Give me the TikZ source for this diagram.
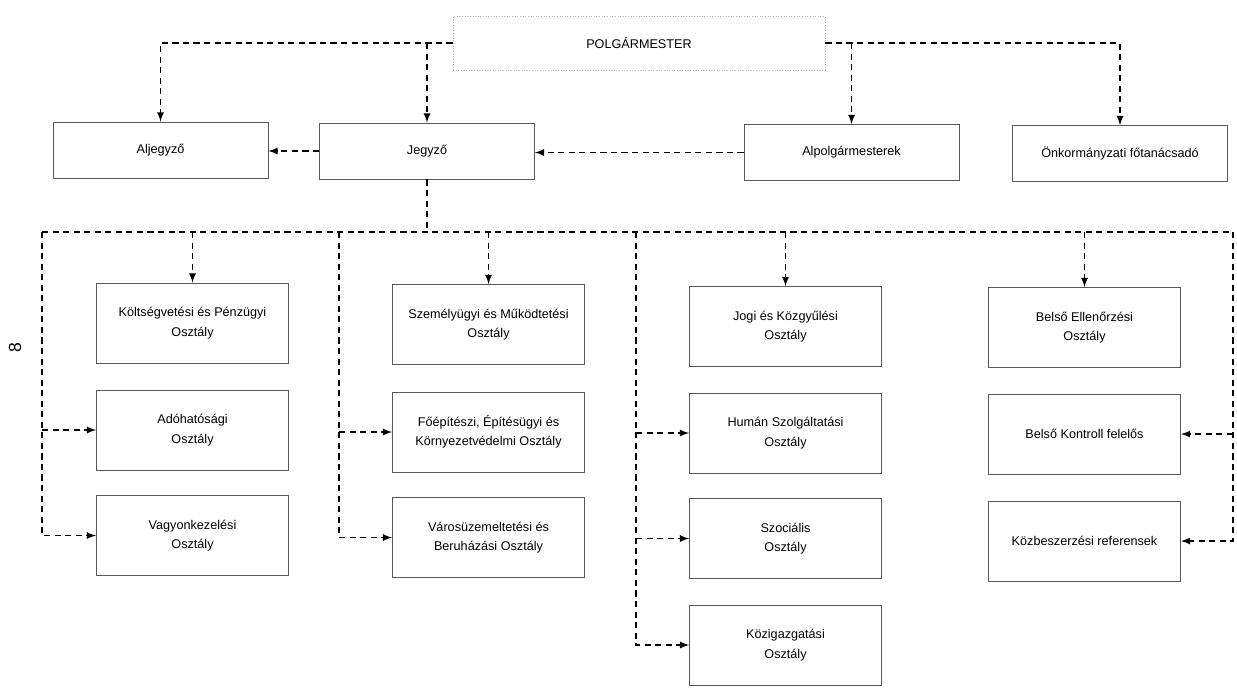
\documentclass[tikz,border=0pt]{standalone}
\usepackage{fontspec}
\setmainfont{Liberation Sans}
\usetikzlibrary{positioning}
\usetikzlibrary{shapes}
\usetikzlibrary{calc}

\begin{document}
\begin{tikzpicture}[x=0.02cm,y=-0.02cm,font=\fontsize{7.2}{11}\selectfont]
  \useasboundingbox (0,0) rectangle (1237,697);
  \node[rotate=90,font=\fontsize{10}{12}\selectfont] (pagenum) at (15,348) {8};
  \begin{scope}[every node/.style={rectangle,draw=black!65,line width=0.5pt,align=center,minimum width=3.84cm,minimum height=1.6cm,inner sep=1pt}]
    % vezetes
    \node[draw=black!30,densely dotted,minimum width=7.44cm,minimum height=1.08cm] (polg) at (639,43) {POLGÁRMESTER};
    \node[minimum width=4.3cm,minimum height=1.12cm] (alj) at (160.5,150) {Aljegyző};
    \node[minimum width=4.3cm,minimum height=1.12cm] (jeg) at (427,151) {Jegyző};
    \node[minimum width=4.3cm,minimum height=1.12cm] (alp) at (851.5,152.5) {Alpolgármesterek};
    \node[minimum width=4.3cm,minimum height=1.12cm] (onk) at (1120,153.5) {Önkormányzati főtanácsadó};
    % osztalyok
    \node (kolt) at (192.5,323) {Költségvetési és Pénzügyi\\Osztály};
    \node (ado) at (192.5,430) {Adóhatósági\\Osztály};
    \node (vagy) at (192.5,535.5) {Vagyonkezelési\\Osztály};
    \node (szem) at (488.5,324.5) {Személyügyi és Működtetési\\Osztály};
    \node (foep) at (488.5,432) {Főépítészi, Építésügyi és\\Környezetvédelmi Osztály};
    \node (varos) at (488.5,537.5) {Városüzemeltetési és\\Beruházási Osztály};
    \node (jogi) at (785.5,326.5) {Jogi és Közgyűlési\\Osztály};
    \node (human) at (785.5,433) {Humán Szolgáltatási\\Osztály};
    \node (szoc) at (785.5,538.5) {Szociális\\Osztály};
    \node (kozig) at (785.5,645) {Közigazgatási\\Osztály};
    \node (belsoe) at (1084.5,327.5) {Belső Ellenőrzési\\Osztály};
    \node (kontroll) at (1084.5,434) {Belső Kontroll felelős};
    \node (kozb) at (1084.5,541) {Közbeszerzési referensek};
  \end{scope}
  \coordinate (busL) at (42,232);
  \coordinate (busR) at (1233,232);
  \coordinate (bus2) at (339,232);
  \coordinate (bus3) at (636,232);
  \begin{scope}[every path/.style={->,dash pattern=on 3.5pt off 2.5pt,line width=0.8pt},>=latex]
    \draw (polg.west) -| (alj.north);
    \draw (polg.west -| jeg.north) -- (jeg.north);
    \draw (polg.east) -| (onk.north);
    \draw (polg.east -| alp.north) -- (alp.north);
    \draw (jeg.west) -- (jeg.west -| alj.east);
    \draw (alp.west) -- (alp.west -| jeg.east);
    \draw[-] (jeg.south) -- (jeg.south |- busL);
    \draw[-] (busL) -- (busR);
    \draw (busL -| kolt.north) -- (kolt.north);
    \draw (busL -| szem.north) -- (szem.north);
    \draw (busL -| jogi.north) -- (jogi.north);
    \draw (busL -| belsoe.north) -- (belsoe.north);
    \draw (busL) |- (vagy.west);
    \draw (busL |- ado.west) -- (ado.west);
    \draw (bus2) |- (varos.west);
    \draw (bus2 |- foep.west) -- (foep.west);
    \draw (bus3) |- (kozig.west);
    \draw (bus3 |- human.west) -- (human.west);
    \draw (bus3 |- szoc.west) -- (szoc.west);
    \draw (busR) |- (kozb.east);
    \draw (busR |- kontroll.east) -- (kontroll.east);
  \end{scope}
\end{tikzpicture}
\end{document}
